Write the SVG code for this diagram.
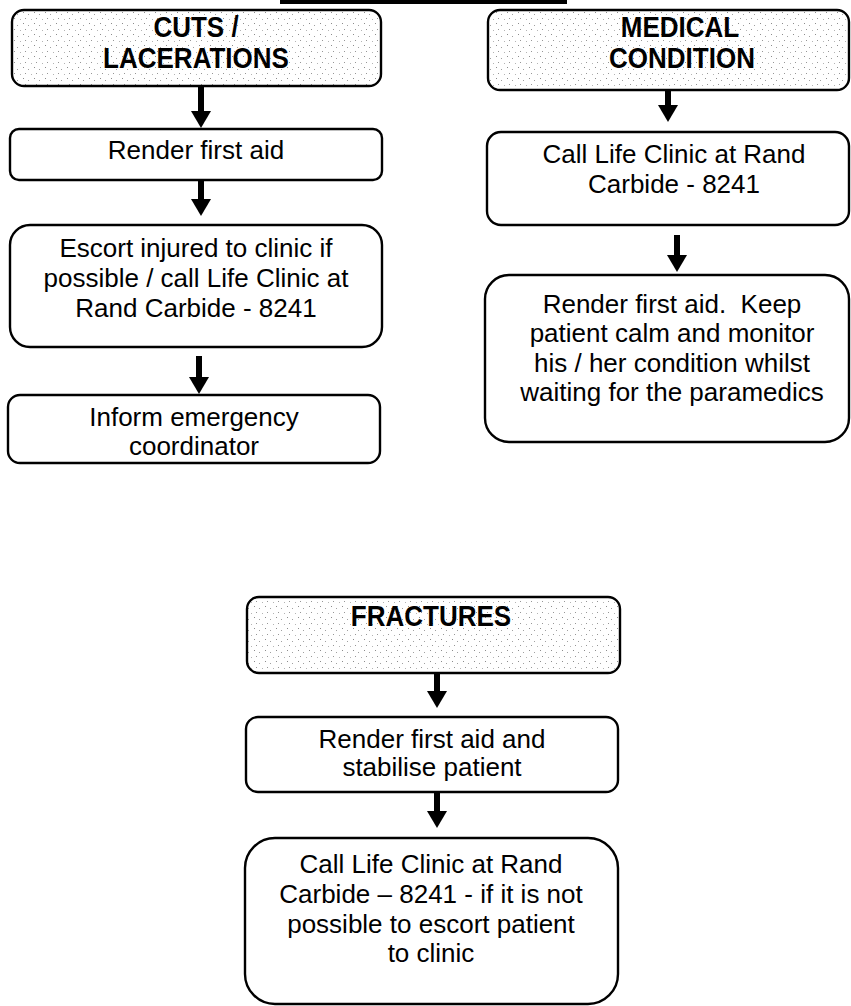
<svg xmlns="http://www.w3.org/2000/svg" width="851" height="1006" viewBox="0 0 851 1006">
  <defs>
    <!-- sparse stipple used for the heading boxes -->
    <pattern id="stipple" width="11" height="11" patternUnits="userSpaceOnUse">
      <rect width="11" height="11" fill="#ffffff"/>
      <rect x="1" y="1" width="1" height="1" fill="#8c8c8c"/>
      <rect x="6" y="3" width="1" height="1" fill="#a0a0a0"/>
      <rect x="3" y="7" width="1" height="1" fill="#969696"/>
      <rect x="9" y="8" width="1" height="1" fill="#b4b4b4"/>
    </pattern>
    <marker id="head" markerUnits="userSpaceOnUse" markerWidth="20" markerHeight="22"
            refX="0" refY="10" orient="auto" overflow="visible">
      <path d="M0,0 L17,10 L0,20 Z" fill="#000"/>
    </marker>
  </defs>
  <style>
    .box { fill: #ffffff; stroke: #000; stroke-width: 2.4; }
    .hdr { fill: url(#stipple); stroke: #000; stroke-width: 2.4; }
    .t { font-family: "Liberation Sans", Arial, sans-serif; font-size: 26px; fill: #000; text-anchor: middle; }
    .h { font-family: "Liberation Sans", Arial, sans-serif; font-size: 26px; font-weight: bold; fill: #000; text-anchor: middle; }
    .arr { stroke: #000; stroke-width: 6; fill: none; marker-end: url(#head); }
  </style>

  <rect width="851" height="1006" fill="#ffffff"/>

  <!-- heading underline at the top edge -->
  <rect x="280" y="0" width="287" height="4" fill="#000"/>

  <!-- left column -->
  <g id="cuts">
    <rect class="hdr" x="12" y="10" width="369" height="76" rx="12"/>
    <text class="h" transform="translate(196,37) scale(1,1.12)">CUTS /</text>
    <text class="h" transform="translate(196,68) scale(1,1.12)">LACERATIONS</text>
  </g>
  <g id="cuts-aid">
    <rect class="box" x="10" y="129" width="372" height="51" rx="9"/>
    <text class="t" x="196" y="159">Render first aid</text>
  </g>
  <g id="cuts-escort">
    <rect class="box" x="10" y="225" width="372" height="122" rx="20"/>
    <text class="t" x="196" y="257">Escort injured to clinic if</text>
    <text class="t" x="196" y="287">possible / call Life Clinic at</text>
    <text class="t" x="196" y="317">Rand Carbide - 8241</text>
  </g>
  <g id="cuts-inform">
    <rect class="box" x="8" y="395" width="372" height="68" rx="12"/>
    <text class="t" x="194" y="426">Inform emergency</text>
    <text class="t" x="194" y="455">coordinator</text>
  </g>

  <!-- right column -->
  <g id="medical">
    <rect class="hdr" x="488" y="10" width="361" height="80" rx="12"/>
    <text class="h" transform="translate(680,37) scale(1,1.12)">MEDICAL</text>
    <text class="h" transform="translate(682,68) scale(1,1.12)">CONDITION</text>
  </g>
  <g id="medical-call">
    <rect class="box" x="487" y="132" width="362" height="93" rx="14"/>
    <text class="t" x="674" y="163">Call Life Clinic at Rand</text>
    <text class="t" x="674" y="193">Carbide - 8241</text>
  </g>
  <g id="medical-aid">
    <rect class="box" x="485" y="275" width="364" height="167" rx="24"/>
    <text class="t" x="672" y="313" xml:space="preserve">Render first aid.  Keep</text>
    <text class="t" x="672" y="342">patient calm and monitor</text>
    <text class="t" x="672" y="372">his / her condition whilst</text>
    <text class="t" x="672" y="401">waiting for the paramedics</text>
  </g>

  <!-- bottom column -->
  <g id="fractures">
    <rect class="hdr" x="247" y="597" width="373" height="76" rx="12"/>
    <text class="h" transform="translate(431,626) scale(1,1.12)">FRACTURES</text>
  </g>
  <g id="fractures-aid">
    <rect class="box" x="246" y="717" width="372" height="75" rx="12"/>
    <text class="t" x="432" y="748">Render first aid and</text>
    <text class="t" x="432" y="776">stabilise patient</text>
  </g>
  <g id="fractures-call">
    <rect class="box" x="245" y="838" width="373" height="166" rx="30"/>
    <text class="t" x="431" y="873">Call Life Clinic at Rand</text>
    <text class="t" x="431" y="903">Carbide – 8241 - if it is not</text>
    <text class="t" x="431" y="933">possible to escort patient</text>
    <text class="t" x="431" y="962">to clinic</text>
  </g>

  <!-- connectors -->
  <g id="connectors">
    <line class="arr" x1="201" y1="87" x2="201" y2="111"/>
    <line class="arr" x1="201" y1="181" x2="201" y2="199"/>
    <line class="arr" x1="199" y1="356" x2="199" y2="377"/>
    <line class="arr" x1="668" y1="91" x2="668" y2="105"/>
    <line class="arr" x1="677" y1="235" x2="677" y2="255"/>
    <line class="arr" x1="437" y1="674" x2="437" y2="691"/>
    <line class="arr" x1="437" y1="793" x2="437" y2="811"/>
  </g>
</svg>
